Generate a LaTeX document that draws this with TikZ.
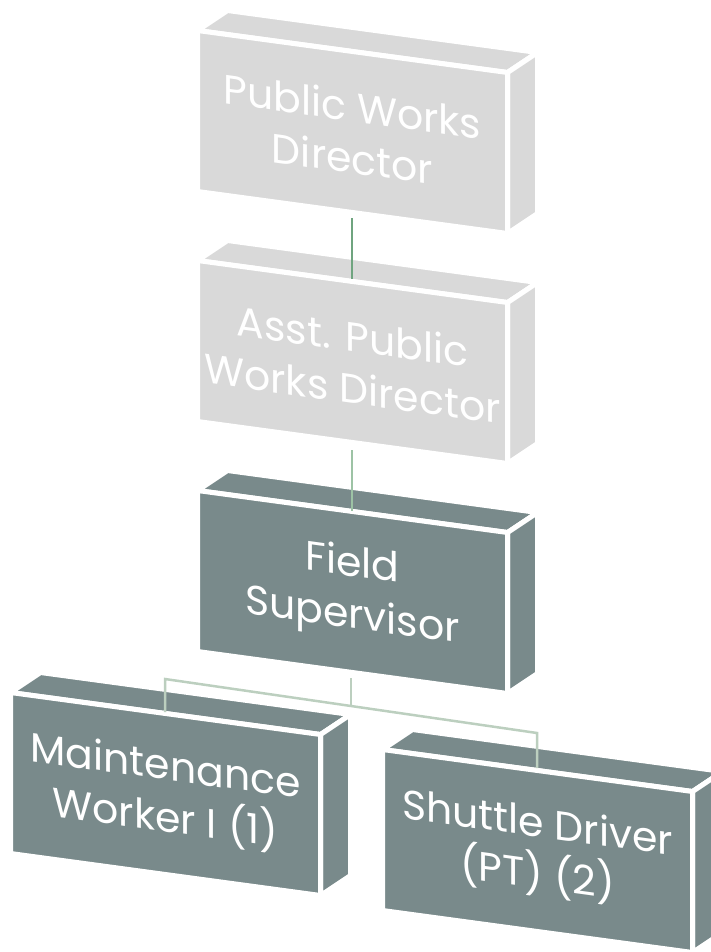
\documentclass[tikz,border=0pt]{standalone}
\usepackage{fontspec}
\setmainfont{Poppins}
\usetikzlibrary{calc}
\definecolor{lightbox}{HTML}{D9D9D9}
\definecolor{darkbox}{HTML}{798A8B}
\definecolor{connA}{HTML}{6FA47F}
\definecolor{connB}{HTML}{9DC3A5}
\definecolor{connC}{HTML}{BCCFBF}
\tikzset{
  face/.style={line width=5pt, draw=white, line join=round},
  boxtext/.style={text=white, align=center, inner sep=0pt,
    font=\fontsize{41}{52}\selectfont, yslant=-0.138},
  conn/.style={line width=2.5pt}
}
\newcommand\cubebox[3]{%
  \coordinate (#1A) at (#2);
  \coordinate (#1B) at ($(#1A)+(310,42)$);
  \coordinate (#1C) at ($(#1B)+(0,161)$);
  \coordinate (#1D) at ($(#1A)+(0,161)$);
  \path[face, fill=#3] (#1A) -- ($(#1A)+(30,-20)$) -- ($(#1B)+(30,-20)$) -- (#1B) -- cycle;
  \path[face, fill=#3] (#1B) -- ($(#1B)+(30,-20)$) -- ($(#1C)+(30,-20)$) -- (#1C) -- cycle;
  \path[face, fill=#3] (#1A) -- (#1B) -- (#1C) -- (#1D) -- cycle;
  \coordinate (#1M) at ($(#1A)!0.5!(#1C)$);
}
\begin{document}
\begin{tikzpicture}[x=1pt,y=-1pt]
\useasboundingbox (0,0) rectangle (710,952);
\cubebox{b1}{197.5,30.5}{lightbox}
\cubebox{b2}{197.5,260.5}{lightbox}
\cubebox{b3}{197.5,490.5}{darkbox}
\cubebox{b4}{10.5,692.5}{darkbox}
\cubebox{b5}{382.5,749.5}{darkbox}
\node[boxtext] (n1) at (b1M) {Public Works\\Director};
\node[boxtext] (n2) at (b2M) {Asst. Public\\Works Director};
\node[boxtext] (n3) at (b3M) {Field\\Supervisor};
\node[boxtext] (n4) at (b4M) {Maintenance\\Worker I (1)};
\node[boxtext] (n5) at (b5M) {Shuttle Driver\\(PT) (2)};
\coordinate (j1) at (352,218);
\coordinate (j2) at (352,279);
\coordinate (j3) at (352,450);
\coordinate (j4) at (352,511);
\coordinate (j5) at (351,678);
\coordinate (jm) at (351,706);
\coordinate (jl) at (165,679);
\coordinate (jr) at (537,733);
\coordinate (t4) at (165,712);
\coordinate (t5) at (537,768);
\draw[conn, connA] (j1) -- (j2);
\draw[conn, connB] (j3) -- (j4);
\draw[conn, connC] (j5) -- (jm);
\draw[conn, connC, line join=miter] (t4) -- (jl) -- (jr) -- (t5);
\end{tikzpicture}
\end{document}
